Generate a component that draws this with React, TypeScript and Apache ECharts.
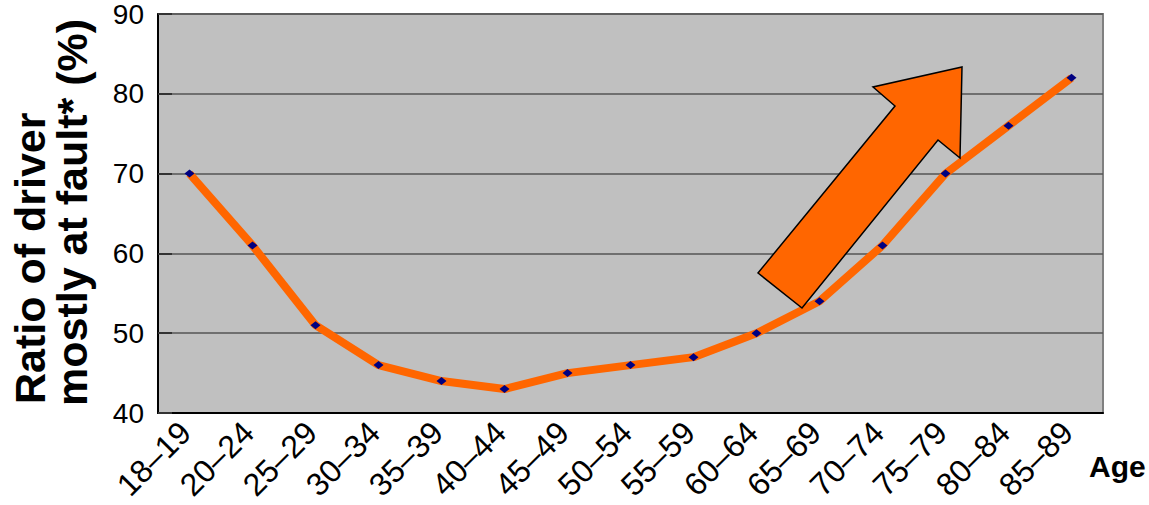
import React, { useEffect, useRef } from "react";
import * as echarts from "echarts";

const categories = [
  "18–19", "20–24", "25–29", "30–34", "35–39", "40–44", "45–49", "50–54",
  "55–59", "60–64", "65–69", "70–74", "75–79", "80–84", "85–89",
];
const ratioAtFault = [70, 61, 51, 46, 44, 43, 45, 46, 47, 50, 54, 61, 70, 76, 82];
const yMin = 40;
const yMax = 90;
const yStep = 10;
const titleLines = ["Ratio of driver", "mostly at fault* (%)"];
const xAxisLabel = "Age";

const FONT = "Liberation Sans, Arial, sans-serif";

export default function App() {
  const ref = useRef<HTMLDivElement>(null);
  useEffect(() => {
    document.body.style.margin = "0";
    const chart = echarts.init(ref.current!, undefined, { renderer: "svg" });
    chart.setOption({
      animation: false,
      backgroundColor: "#ffffff",
      grid: {
        left: 158, top: 14, right: 46, bottom: 92,
        outerBoundsMode: "none", containLabel: false,
        show: true, backgroundColor: "#C0C0C0", borderColor: "#808080", borderWidth: 2,
      },
      xAxis: {
        type: "category",
        data: categories,
        boundaryGap: true,
        axisLine: { lineStyle: { color: "#000", width: 2 } },
        axisTick: { inside: true, length: 7, lineStyle: { color: "#333", width: 1.5 } },
        axisLabel: { rotate: 45, fontSize: 32, color: "#000", fontFamily: FONT, margin: 10, padding: [0, 6, 0, 0], interval: 0, hideOverlap: false },
      },
      yAxis: {
        type: "value",
        min: yMin,
        max: yMax,
        interval: yStep,
        axisLine: { show: true, lineStyle: { color: "#000", width: 2 } },
        axisTick: { show: true, inside: true, length: 14, lineStyle: { color: "#333", width: 2 } },
        axisLabel: { fontSize: 28, color: "#000", fontFamily: FONT, margin: 14 },
        splitLine: { lineStyle: { color: "#555", width: 1.5 } },
      },
      series: [
        {
          type: "line",
          data: ratioAtFault,
          symbol: "diamond",
          symbolSize: [10, 8],
          lineStyle: { color: "#FF6600", width: 8 },
          itemStyle: { color: "#000080" },
          z: 3,
        },
      ],
      graphic: [
        {
          type: "text",
          x: 30,
          y: 404,
          rotation: Math.PI / 2,
          style: { text: titleLines[0], font: `bold 43px ${FONT}`, fill: "#000", textAlign: "left", textVerticalAlign: "middle" },
        },
        {
          type: "text",
          x: 72,
          y: 406,
          rotation: Math.PI / 2,
          style: { text: titleLines[1], font: `bold 43px ${FONT}`, fill: "#000", textAlign: "left", textVerticalAlign: "middle" },
        },
        {
          type: "text",
          x: 1089,
          y: 466,
          style: { text: xAxisLabel, font: `bold 30px ${FONT}`, fill: "#000", textAlign: "left", textVerticalAlign: "middle" },
        },
        {
          type: "polygon",
          z: 10,
          shape: {
            points: [
              [758, 273],
              [895, 106],
              [873, 87],
              [962, 67],
              [960, 158],
              [938, 140],
              [802, 308],
            ],
          },
          style: { fill: "#FF6600", stroke: "#000", lineWidth: 1.5 },
        },
      ],
    });
    return () => chart.dispose();
  }, []);
  return <div ref={ref} style={{ position: "absolute", left: 0, top: 0, width: 1149, height: 505 }} />;
}
